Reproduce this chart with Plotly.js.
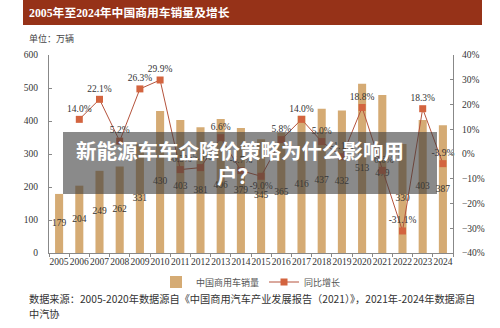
<!DOCTYPE html>
<html>
<head>
<meta charset="utf-8">
<script src="https://cdn.plot.ly/plotly-3.0.1.min.js"></script>
<style>html,body{margin:0;padding:0;background:#fff;}#chart{width:500px;height:328px;}</style>
</head>
<body>
<div id="chart"></div>
<script>
const years = ['2005','2006','2007','2008','2009','2010','2011','2012','2013','2014','2015','2016','2017','2018','2019','2020','2021','2022','2023','2024'];
const sales = [179,204,249,262,331,430,403,381,406,379,345,365,416,437,432,513,479,330,403,387];
const growth = [null,14.0,22.1,5.2,26.3,29.9,-6.3,-5.5,6.6,-6.7,-9.0,5.8,14.0,5.0,-1.1,18.8,-6.6,-31.1,18.3,-3.9];
const growthLabelPos = ['top center','top center','top center','top center','top center','top center','top center','top center','top center','top center','bottom center','top center','top center','top center','top center','top center','top center','top center','top center','top center'];

const serif = 'Liberation Serif, "Noto Sans CJK SC", serif';
const cjk = '"Noto Sans CJK SC", sans-serif';

const traces = [
  {
    type: 'bar', x: years, y: sales, name: '中国商用车销量',
    marker: {color: '#d5ab74'}, width: 0.4, hoverinfo: 'none'
  },
  {
    type: 'scatter', mode: 'text', x: years, y: sales.map(v => v / 2),
    text: sales.map(String), textfont: {family: serif, size: 9.5, color: '#333'},
    showlegend: false, hoverinfo: 'none', cliponaxis: false
  },
  {
    type: 'scatter', mode: 'lines+markers+text', x: years, y: growth, yaxis: 'y2',
    name: '同比增长',
    line: {color: '#b5533c', width: 1},
    marker: {symbol: 'square', size: 7, color: '#d3643f'},
    text: growth.map(v => v === null ? '' : v.toFixed(1) + '%'),
    textposition: growthLabelPos,
    textfont: {family: serif, size: 9.5, color: '#333'},
    connectgaps: false, hoverinfo: 'none', cliponaxis: false
  }
];

const px = x => (x - 49) / 404;
const py = y => (253 - y) / 198;

const layout = {
  width: 500, height: 328,
  margin: {l: 49, r: 47, t: 55, b: 75},
  paper_bgcolor: '#fff', plot_bgcolor: '#fff',
  showlegend: true,
  legend: {
    orientation: 'h', x: 0.5, xanchor: 'center', y: py(282), yanchor: 'middle',
    font: {family: cjk, size: 9, color: '#555'}, itemwidth: 30, tracegroupgap: 0
  },
  xaxis: {
    type: 'category', range: [-0.5, 19.5], autorange: false, fixedrange: true,
    showgrid: false, zeroline: false,
    showline: true, linecolor: '#888', linewidth: 1,
    ticks: 'outside', ticklen: 3, tickcolor: '#888', tickson: 'boundaries',
    tickfont: {family: serif, size: 9.5, color: '#333'}, tickangle: 0
  },
  yaxis: {
    range: [0, 600], autorange: false, dtick: 100, showgrid: false, zeroline: false,
    showline: true, linecolor: '#888', linewidth: 1,
    ticks: 'inside', ticklen: 3, tickcolor: '#888',
    tickfont: {family: serif, size: 9.5, color: '#333'}, ticklabelstandoff: 8
  },
  yaxis2: {
    overlaying: 'y', side: 'right', range: [-40, 40], autorange: false, dtick: 10, ticksuffix: '%',
    showgrid: false, zeroline: false,
    showline: true, linecolor: '#888', linewidth: 1,
    ticks: 'inside', ticklen: 3, tickcolor: '#888',
    tickfont: {family: serif, size: 9.5, color: '#333'}, ticklabelstandoff: 6
  },
  shapes: [
    {type: 'rect', xref: 'paper', yref: 'paper', x0: px(23), x1: px(482), y0: py(25), y1: py(0),
     fillcolor: '#963218', line: {width: 0}, layer: 'above'},
    {type: 'rect', xref: 'paper', yref: 'paper', x0: px(63), x1: px(437), y0: py(194), y1: py(132),
     fillcolor: 'rgba(60,60,60,0.6)', line: {width: 0}, layer: 'above'}
  ],
  annotations: [
    {xref: 'paper', yref: 'paper', x: px(27), y: py(13), xanchor: 'left', yanchor: 'middle', showarrow: false,
     text: '<b>2005年至2024年中国商用车销量及增长</b>', font: {family: serif, size: 11.8, color: '#fff'}},
    {xref: 'paper', yref: 'paper', x: px(27), y: py(39), xanchor: 'left', yanchor: 'middle', showarrow: false,
     text: '单位：万辆', font: {family: cjk, size: 9, color: '#444'}},
    {xref: 'paper', yref: 'paper', x: px(27), y: py(298), xanchor: 'left', yanchor: 'middle', showarrow: false,
     text: '数据来源：2005-2020年数据源自《中国商用汽车产业发展报告（2021）》，2021年-2024年数据源自',
     font: {family: cjk, size: 10.2, color: '#333'}},
    {xref: 'paper', yref: 'paper', x: px(27), y: py(313), xanchor: 'left', yanchor: 'middle', showarrow: false,
     text: '中汽协', font: {family: cjk, size: 10.2, color: '#333'}},
    {xref: 'paper', yref: 'paper', x: px(240), y: py(150), xanchor: 'center', yanchor: 'middle', showarrow: false,
     text: '<b>新能源车车企降价策略为什么影响用</b>', font: {family: cjk, size: 20.5, color: '#fff'}},
    {xref: 'paper', yref: 'paper', x: px(237), y: py(175), xanchor: 'center', yanchor: 'middle', showarrow: false,
     text: '<b>户？</b>', font: {family: cjk, size: 20.5, color: '#fff'}}
  ]
};

Plotly.newPlot('chart', traces, layout, {displayModeBar: false, staticPlot: true});
</script>
</body>
</html>
